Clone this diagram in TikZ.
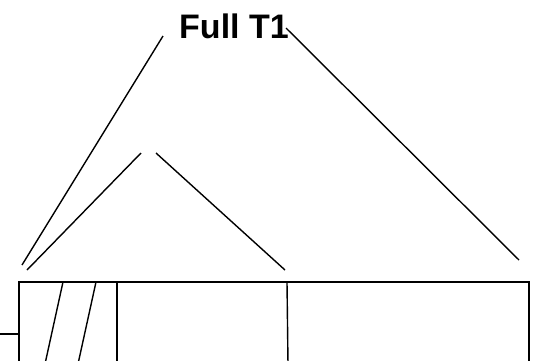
\documentclass[tikz,border=0pt]{standalone}
\usepackage{fontspec}
\setmainfont{Liberation Sans}
\usepackage{tikz}
\usetikzlibrary{calc}

\begin{document}
\begin{tikzpicture}[x=1pt, y=-1pt, line width=1.6pt,
    treeline/.style={line width=1.4pt},
    divider/.style={line width=2.2pt}]
        \useasboundingbox (0,0) rectangle (539,360);
        \clip (0,0) rectangle (539,360);
        % Explicit Coordinates of the bar
        \coordinate (BarTL) at (19, 282);
        \coordinate (BarBR) at (529, 364);
        \coordinate (StubL) at (-2, 334);
        \coordinate (StubR) at (19, 334);
        \coordinate (SlantAT) at (63, 282);
        \coordinate (SlantAB) at (45, 364);
        \coordinate (SlantBT) at (96, 282);
        \coordinate (SlantBB) at (78, 364);
        \coordinate (DivAT) at (117, 282);
        \coordinate (DivAB) at (117, 364);
        \coordinate (DivBT) at (287, 282);
        \coordinate (DivBB) at (288, 364);
        % Explicit Coordinates of the brackets
        \coordinate (OuterL) at (22, 265);
        \coordinate (OuterLT) at (163, 36);
        \coordinate (OuterRT) at (286, 28);
        \coordinate (OuterR) at (519, 260);
        \coordinate (InnerL) at (27, 270);
        \coordinate (InnerLT) at (141, 153);
        \coordinate (InnerRT) at (156, 153);
        \coordinate (InnerR) at (285, 270);

        \draw (BarTL) rectangle (BarBR);
        \draw (StubL) -- (StubR);
        \draw[treeline] (SlantAT) -- (SlantAB);
        \draw[treeline] (SlantBT) -- (SlantBB);
        \draw[divider] (DivAT) -- (DivAB);
        \draw[treeline] (DivBT) -- (DivBB);

        \draw[treeline] (OuterL) -- (OuterLT);
        \draw[treeline] (OuterRT) -- (OuterR);
        \draw[treeline] (InnerL) -- (InnerLT);
        \draw[treeline] (InnerRT) -- (InnerR);

        \node[font=\fontsize{34}{40}\selectfont\bfseries, anchor=base, inner sep=0pt] (title) at (234, 38) {Full T1};
    \end{tikzpicture}
\end{document}
